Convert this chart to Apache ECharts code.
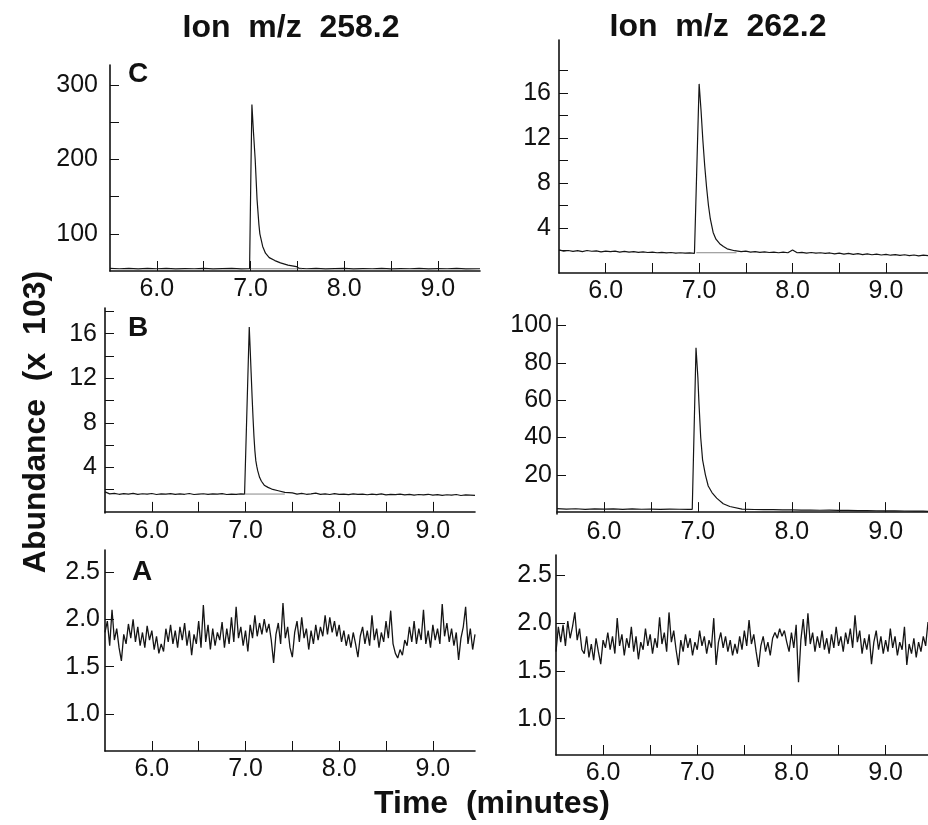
<!DOCTYPE html>
<html>
<head>
<meta charset="utf-8">
<script src="https://cdn.jsdelivr.net/npm/echarts@6/dist/echarts.min.js"></script>
<style>
  html, body { margin: 0; padding: 0; background: #fff; }
  #chart { width: 928px; height: 825px; }
</style>
</head>
<body>
<div id="chart"></div>
<script>
// time axis (minutes)
const timeTicks = [6.0, 6.5, 7.0, 7.5, 8.0, 8.5, 9.0]
const timeLabels = [6.0, 7.0, 8.0, 9.0]

// C, ion 258.2 (x 10^3)
const c258Time = [5.5, 5.6, 5.7, 5.8, 5.9, 6.0, 6.1, 6.2, 6.3, 6.4, 6.5, 6.6, 6.7, 6.8, 6.9,
  6.99, 7.005, 7.015, 7.03, 7.05, 7.07, 7.09, 7.1, 7.13, 7.16, 7.2, 7.26, 7.32, 7.4, 7.49, 7.52,
  7.6, 7.7, 7.8, 7.9, 8.0, 8.1, 8.2, 8.3, 8.4, 8.5, 8.6, 8.7, 8.8, 8.9, 9.0, 9.1, 9.2, 9.3, 9.45]
const c258Abund = [53.5, 53, 53.6, 52.8, 53.4, 53, 53.5, 52.9, 53.3, 53, 53.6, 52.8, 53.2, 53.5, 52.9,
  53, 190, 274, 240, 200, 146, 112, 100, 83, 74, 68, 64, 61, 58, 56, 53.5,
  53, 53.4, 52.8, 53.2, 53.5, 52.9, 53.3, 53, 53.4, 52.8, 53.2, 53, 53.5, 52.9, 53.2, 53, 53.4, 52.8, 53]

// C, ion 262.2
const c262Time = [5.5, 5.55, 5.6, 5.65, 5.7, 5.75, 5.8, 5.85, 5.9, 5.95, 6.0, 6.05, 6.1, 6.15, 6.2,
  6.25, 6.3, 6.35, 6.4, 6.45, 6.5, 6.55, 6.6, 6.65, 6.7, 6.75, 6.8, 6.85, 6.9, 6.95,
  6.97, 7.0, 7.02, 7.04, 7.06, 7.08, 7.1, 7.12, 7.15, 7.18, 7.22, 7.26, 7.3, 7.38,
  7.45, 7.5, 7.55, 7.6, 7.65, 7.7, 7.75, 7.8, 7.85, 7.9, 7.95, 8.0, 8.05, 8.1, 8.15, 8.2, 8.25,
  8.3, 8.35, 8.4, 8.45, 8.5, 8.55, 8.6, 8.65, 8.7, 8.75, 8.8, 8.85, 8.9, 8.95, 9.0, 9.05, 9.1,
  9.15, 9.2, 9.25, 9.3, 9.35, 9.4, 9.45]
const c262Abund = [2.05, 1.95, 2.0, 1.92, 1.98, 1.9, 2.0, 1.93, 1.96, 1.88, 1.95, 1.9, 1.94, 1.86, 1.92,
  1.85, 1.9, 1.84, 1.88, 1.82, 1.86, 1.8, 1.84, 1.78, 1.82, 1.76, 1.8, 1.76, 1.78, 1.75,
  1.8, 16.8, 14.5, 11.8, 9.5, 7.6, 6.0, 4.8, 3.6, 3.0, 2.6, 2.35, 2.15, 1.98,
  1.9, 1.94, 1.86, 1.9, 1.84, 1.88, 1.82, 1.86, 1.8, 1.85, 1.8, 2.05, 1.8, 1.84, 1.76, 1.82, 1.76,
  1.8, 1.74, 1.78, 1.7, 1.76, 1.68, 1.74, 1.66, 1.72, 1.64, 1.7, 1.62, 1.68, 1.6, 1.66, 1.58, 1.64,
  1.56, 1.62, 1.55, 1.6, 1.52, 1.58, 1.55]

// B, ion 258.2
const b258Time = [5.5, 5.55, 5.6, 5.65, 5.7, 5.75, 5.8, 5.85, 5.9, 5.95, 6.0, 6.05, 6.1, 6.15, 6.2,
  6.25, 6.3, 6.35, 6.4, 6.45, 6.5, 6.55, 6.6, 6.65, 6.7, 6.75, 6.8, 6.85, 6.9, 6.95,
  6.99, 7.04, 7.05, 7.06, 7.07, 7.08, 7.09, 7.1, 7.11, 7.12, 7.13, 7.15, 7.17, 7.2, 7.24, 7.28, 7.35, 7.42,
  7.5, 7.55, 7.6, 7.65, 7.7, 7.75, 7.8, 7.85, 7.9, 7.95, 8.0, 8.05, 8.1, 8.15, 8.2, 8.25, 8.3,
  8.35, 8.4, 8.45, 8.5, 8.55, 8.6, 8.65, 8.7, 8.75, 8.8, 8.85, 8.9, 8.95, 9.0, 9.05, 9.1, 9.15,
  9.2, 9.25, 9.3, 9.35, 9.4, 9.45]
const b258Abund = [1.8, 1.62, 1.66, 1.58, 1.64, 1.6, 1.66, 1.57, 1.63, 1.59, 1.65, 1.56, 1.62, 1.6, 1.64,
  1.57, 1.62, 1.58, 1.65, 1.56, 1.6, 1.63, 1.57, 1.61, 1.59, 1.64, 1.56, 1.6, 1.58, 1.62,
  1.6, 16.6, 14.6, 12.5, 10.4, 8.5, 6.8, 5.5, 4.6, 4.1, 3.7, 3.1, 2.75, 2.4, 2.2, 2.05, 1.9, 1.75,
  1.7, 1.6, 1.66, 1.58, 1.62, 1.68, 1.57, 1.62, 1.56, 1.64, 1.58, 1.6, 1.55, 1.62, 1.57, 1.6, 1.54,
  1.59, 1.55, 1.61, 1.53, 1.58, 1.55, 1.6, 1.52, 1.57, 1.5, 1.56, 1.53, 1.58, 1.5, 1.55, 1.48, 1.54,
  1.5, 1.56, 1.47, 1.52, 1.5, 1.48]

// B, ion 262.2
const b262Time = [5.5, 5.6, 5.7, 5.8, 5.9, 6.0, 6.1, 6.2, 6.3, 6.4, 6.5, 6.6, 6.7, 6.8, 6.9,
  6.94, 6.98, 7.0, 7.01, 7.03, 7.05, 7.08, 7.11, 7.15, 7.2, 7.27, 7.34, 7.47,
  7.6, 7.7, 7.8, 7.9, 8.0, 8.1, 8.2, 8.3, 8.4, 8.5, 8.6, 8.7, 8.8, 8.9, 9.0, 9.1, 9.2, 9.3, 9.4, 9.45]
const b262Abund = [1.9, 1.6, 1.8, 1.5, 1.7, 1.6, 1.75, 1.5, 1.7, 1.55, 1.65, 1.5, 1.6, 1.55, 1.5,
  1.5, 88, 72, 60, 40, 28, 20, 14, 10.5, 7.5, 4.5, 3.0, 1.6,
  1.4, 1.3, 1.35, 1.2, 1.25, 1.1, 1.15, 1.0, 1.05, 0.9, 0.95, 0.85, 0.8, 0.75, 0.7, 0.65, 0.6, 0.55, 0.5, 0.45]

// A, blank noise, one scan every 0.025 min from 5.5
const scanStart = 5.5
const scanStep = 0.025
const a258Abund = [1.86, 1.98, 1.72, 2.10, 1.78, 1.90, 1.70, 1.56, 1.84, 1.74, 1.95, 1.80, 2.00, 1.76, 1.92,
  1.72, 1.86, 1.70, 1.93, 1.78, 1.88, 1.68, 1.82, 1.64, 1.74, 1.66, 1.90, 1.76, 1.94, 1.74,
  1.88, 1.70, 1.92, 1.78, 1.96, 1.72, 1.88, 1.62, 1.84, 1.74, 1.98, 1.70, 2.15, 1.76, 1.94,
  1.68, 1.90, 1.72, 1.86, 1.78, 1.97, 1.70, 1.90, 1.74, 2.02, 1.76, 2.13, 1.80, 1.92, 1.72,
  1.88, 1.66, 1.94, 1.80, 2.04, 1.82, 1.96, 1.84, 2.00, 1.86, 1.95, 1.78, 1.54, 1.84, 1.96,
  1.74, 2.17, 1.80, 1.92, 1.70, 1.60, 1.86, 1.98, 1.76, 2.02, 1.80, 1.90, 1.68, 1.88, 1.74,
  1.94, 1.78, 1.92, 1.82, 2.04, 1.84, 2.02, 1.86, 1.98, 1.82, 1.94, 1.76, 1.88, 1.72, 1.84,
  1.70, 1.86, 1.74, 1.60, 1.82, 1.92, 1.74, 1.88, 1.72, 2.04, 1.78, 1.90, 1.70, 1.86, 1.76,
  1.98, 1.80, 2.09, 1.74, 1.64, 1.59, 1.68, 1.62, 1.78, 1.72, 1.92, 1.76, 1.98, 1.74, 1.90,
  1.78, 2.10, 1.74, 1.88, 1.70, 1.94, 1.78, 1.90, 1.74, 2.16, 1.82, 1.96, 1.76, 1.90, 1.72,
  1.86, 1.57, 1.80, 1.92, 2.13, 1.74, 1.90, 1.68, 1.84]
const a262Abund = [1.70, 1.96, 1.80, 1.98, 1.76, 2.02, 1.84, 1.96, 2.11, 1.82, 1.94, 1.72, 1.68, 1.86, 1.64,
  1.78, 1.61, 1.84, 1.70, 1.57, 1.82, 1.74, 1.90, 1.72, 1.86, 1.68, 2.05, 1.76, 1.88, 1.66,
  1.84, 1.74, 1.96, 1.70, 1.86, 1.62, 1.80, 1.72, 1.94, 1.76, 1.88, 1.68, 1.84, 1.74, 2.06,
  1.78, 1.90, 1.70, 2.11, 1.80, 1.92, 1.72, 1.56, 1.82, 1.70, 1.88, 1.74, 1.84, 1.66, 1.80,
  1.72, 1.92, 1.76, 1.86, 1.68, 1.82, 1.74, 2.05, 1.56, 1.80, 1.90, 1.74, 1.86, 1.70, 1.82,
  1.66, 1.78, 1.68, 1.86, 1.72, 1.92, 1.76, 2.03, 1.78, 1.88, 1.70, 1.54, 1.76, 1.86, 1.70,
  1.80, 1.66, 1.84, 1.90, 1.84, 1.94, 1.86, 1.92, 1.80, 1.70, 1.90, 1.74, 1.98, 1.38, 1.82,
  2.04, 1.76, 2.10, 1.78, 1.90, 1.70, 1.86, 1.74, 1.92, 1.72, 1.84, 1.68, 1.88, 1.74, 1.96,
  1.76, 1.86, 1.70, 1.90, 1.78, 1.94, 1.74, 2.08, 1.80, 1.92, 1.68, 1.84, 1.72, 1.88, 1.57,
  1.80, 1.92, 1.72, 1.86, 1.68, 1.82, 1.70, 1.94, 1.74, 1.86, 1.66, 1.80, 1.72, 1.96, 1.56,
  1.78, 1.68, 1.84, 1.64, 1.80, 1.70, 1.86, 1.76, 2.01]

// integration baselines under the peaks [from, to, level]
const c258Base = [7.0, 7.55, 53]
const c262Base = [6.97, 7.4, 1.8]
const b258Base = [6.99, 7.42, 1.6]

const FONT = 'Liberation Sans, Arial, Helvetica, sans-serif'
const INK = '#111'

const zip = (xs, ys) => xs.map((x, i) => [x, ys[i]])
const scans = (ys) => ys.map((y, i) => [scanStart + i * scanStep, y])

const panels = [
  { grid: { left: 110, top: 65, width: 370, height: 206 }, data: zip(c258Time, c258Abund), base: c258Base,
    y: { min: 50, max: 327, ticks: [100, 150, 200, 250, 300], labels: [100, 200, 300], margin: 12 } },
  { grid: { left: 559, top: 40, width: 369, height: 233 }, data: zip(c262Time, c262Abund), base: c262Base,
    y: { min: 0, max: 20.7, ticks: [2, 4, 6, 8, 10, 12, 14, 16, 18], labels: [4, 8, 12, 16], margin: 8 } },
  { grid: { left: 105, top: 308, width: 370, height: 205 }, data: zip(b258Time, b258Abund), base: b258Base,
    y: { min: -0.1, max: 18.3, ticks: [2, 4, 6, 8, 10, 12, 14, 16, 18], labels: [4, 8, 12, 16], margin: 8 } },
  { grid: { left: 557, top: 318, width: 371, height: 196 }, data: zip(b262Time, b262Abund), base: null,
    y: { min: -1, max: 104, ticks: [20, 40, 60, 80, 100], labels: [20, 40, 60, 80, 100], margin: 5 } },
  { grid: { left: 105, top: 550, width: 370, height: 201 }, data: scans(a258Abund), base: null,
    y: { min: 0.61, max: 2.73, ticks: [1.0, 1.5, 2.0, 2.5], labels: [1.0, 1.5, 2.0, 2.5], margin: 5, dec: 1 } },
  { grid: { left: 556, top: 555, width: 372, height: 200 }, data: scans(a262Abund), base: null,
    y: { min: 0.62, max: 2.71, ticks: [1.0, 1.5, 2.0, 2.5], labels: [1.0, 1.5, 2.0, 2.5], margin: 4, dec: 1 } }
]

const axisLine = { lineStyle: { color: INK, width: 1.6 } }
const tickStyle = { color: INK, width: 1 }

const grid = []
const xAxis = []
const yAxis = []
const series = []

panels.forEach((p, i) => {
  grid.push(p.grid)
  xAxis.push({
    type: 'value',
    gridIndex: i,
    min: 5.5,
    max: 9.45,
    axisLine,
    splitLine: { show: false },
    axisTick: { inside: true, length: 10, lineStyle: tickStyle, customValues: timeTicks },
    axisLabel: {
      customValues: timeLabels,
      formatter: (v) => v.toFixed(1),
      fontFamily: FONT,
      fontSize: 25,
      color: INK,
      margin: 6
    }
  })
  yAxis.push({
    type: 'value',
    gridIndex: i,
    min: p.y.min,
    max: p.y.max,
    axisLine: { show: true, ...axisLine },
    splitLine: { show: false },
    axisTick: { show: true, inside: true, length: 9, lineStyle: tickStyle, customValues: p.y.ticks },
    axisLabel: {
      customValues: p.y.labels,
      formatter: (v) => p.y.dec ? v.toFixed(p.y.dec) : String(v),
      fontFamily: FONT,
      fontSize: 25,
      color: INK,
      margin: p.y.margin
    }
  })
  series.push({
    type: 'line',
    xAxisIndex: i,
    yAxisIndex: i,
    data: p.data,
    showSymbol: false,
    silent: true,
    lineStyle: { color: '#151515', width: i >= 4 ? 1.3 : 1.2 }
  })
  if (p.base) {
    series.push({
      type: 'line',
      xAxisIndex: i,
      yAxisIndex: i,
      data: [[p.base[0], p.base[2]], [p.base[1], p.base[2]]],
      showSymbol: false,
      silent: true,
      lineStyle: { color: '#555', width: 0.7 }
    })
  }
})

const text = (x, y, str, size, extra) => ({
  type: 'text',
  x,
  y,
  style: {
    text: str,
    fontFamily: FONT,
    fontSize: size,
    fontWeight: 'bold',
    fill: INK,
    align: 'center',
    verticalAlign: 'middle'
  },
  ...extra
})

const graphic = [
  text(291, 28, 'Ion  m/z  258.2', 32),
  text(718, 27, 'Ion  m/z  262.2', 32),
  text(492, 804, 'Time  (minutes)', 32),
  text(36, 422, 'Abundance  (x  103)', 32, { rotation: Math.PI / 2 }),
  text(138, 74, 'C', 28),
  text(138, 328, 'B', 28),
  text(142, 572, 'A', 28)
]

const chart = echarts.init(document.getElementById('chart'), null, { renderer: 'canvas' })
chart.setOption({
  animation: false,
  backgroundColor: '#fff',
  grid,
  xAxis,
  yAxis,
  series,
  graphic
})
</script>
</body>
</html>
